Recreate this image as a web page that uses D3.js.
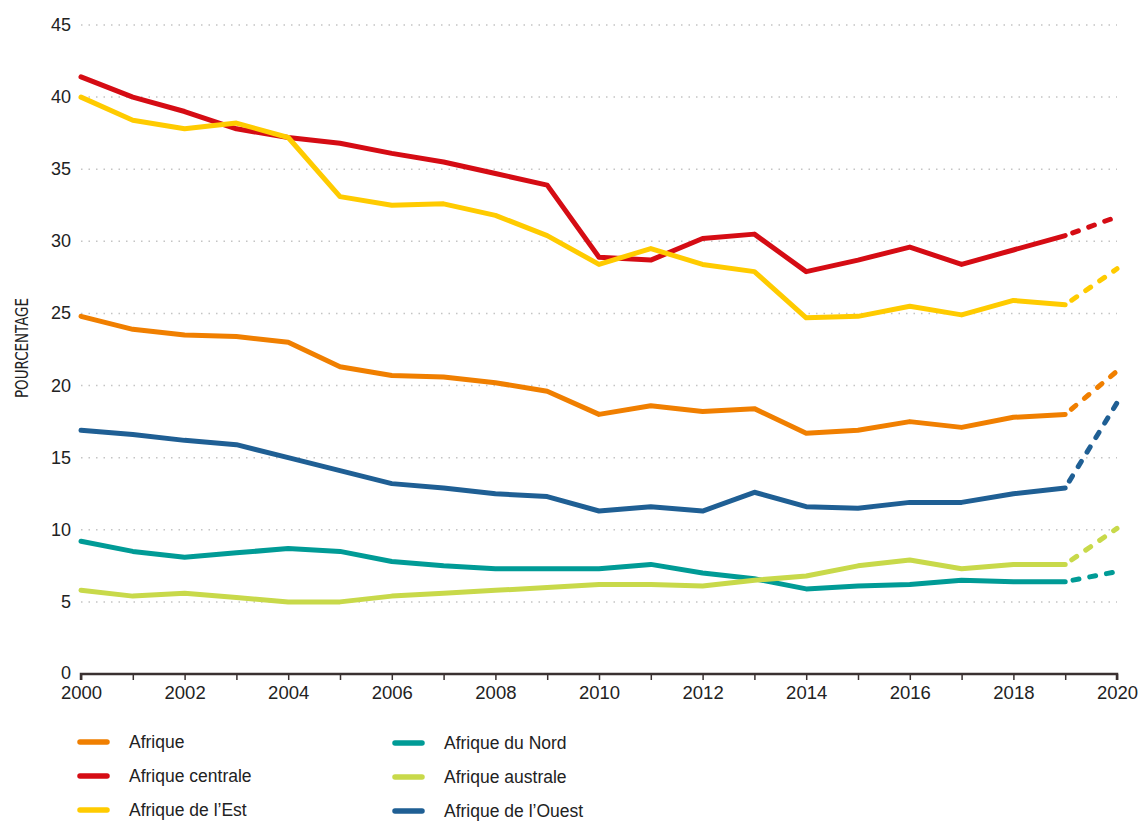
<!DOCTYPE html>
<html>
<head>
<meta charset="utf-8">
<script src="https://cdn.jsdelivr.net/npm/d3@7"></script>
<style>
  html, body { margin: 0; padding: 0; background: #fff; }
  svg { display: block; font-family: "Liberation Sans", Arial, sans-serif; }
</style>
</head>
<body>
<svg id="chart" width="1141" height="821"></svg>
<script>
const years = d3.range(2000, 2021);
const yTicks = [0, 5, 10, 15, 20, 25, 30, 35, 40, 45];
const xTicks = [2000, 2002, 2004, 2006, 2008, 2010, 2012, 2014, 2016, 2018, 2020];

const seriesNames = ["Afrique", "Afrique centrale", "Afrique de l\u2019Est", "Afrique du Nord", "Afrique australe", "Afrique de l\u2019Ouest"];
const seriesColors = ["#f07f00", "#d50c14", "#ffcb00", "#009b96", "#c8d94a", "#1f5f94"];

const afrique        = [24.8, 23.9, 23.5, 23.4, 23.0, 21.3, 20.7, 20.6, 20.2, 19.6, 18.0, 18.6, 18.2, 18.4, 16.7, 16.9, 17.5, 17.1, 17.8, 18.0, 21.0];
const afriqueCentrale= [41.4, 40.0, 39.0, 37.8, 37.2, 36.8, 36.1, 35.5, 34.7, 33.9, 28.9, 28.7, 30.2, 30.5, 27.9, 28.7, 29.6, 28.4, 29.4, 30.4, 31.7];
const afriqueEst     = [40.0, 38.4, 37.8, 38.2, 37.2, 33.1, 32.5, 32.6, 31.8, 30.4, 28.4, 29.5, 28.4, 27.9, 24.7, 24.8, 25.5, 24.9, 25.9, 25.6, 28.1];
const afriqueNord    = [9.2, 8.5, 8.1, 8.4, 8.7, 8.5, 7.8, 7.5, 7.3, 7.3, 7.3, 7.6, 7.0, 6.6, 5.9, 6.1, 6.2, 6.5, 6.4, 6.4, 7.1];
const afriqueAustrale= [5.8, 5.4, 5.6, 5.3, 5.0, 5.0, 5.4, 5.6, 5.8, 6.0, 6.2, 6.2, 6.1, 6.5, 6.8, 7.5, 7.9, 7.3, 7.6, 7.6, 10.1];
const afriqueOuest   = [16.9, 16.6, 16.2, 15.9, 15.0, 14.1, 13.2, 12.9, 12.5, 12.3, 11.3, 11.6, 11.3, 12.6, 11.6, 11.5, 11.9, 11.9, 12.5, 12.9, 18.8];

const seriesValues = [afrique, afriqueCentrale, afriqueEst, afriqueNord, afriqueAustrale, afriqueOuest];
const lastObserved = 2019;

const svg = d3.select("#chart");
const x = d3.scaleLinear().domain([2000, 2020]).range([81, 1117]);
const y = d3.scaleLinear().domain([0, 45]).range([674, 25]);

// gridlines
svg.append("g").selectAll("line")
  .data(yTicks.filter(d => d > 0))
  .join("line")
  .attr("x1", x(2000)).attr("x2", x(2020))
  .attr("y1", d => y(d)).attr("y2", d => y(d))
  .attr("stroke", "#c4c4c4").attr("stroke-width", 1.5)
  .attr("stroke-dasharray", "1.5,6");

// y tick labels
svg.append("g").selectAll("text")
  .data(yTicks)
  .join("text")
  .attr("x", 71).attr("y", d => y(d) + (d === 0 ? 5 : 6))
  .attr("text-anchor", "end")
  .attr("font-size", 18).attr("fill", "#222")
  .text(d => d);

// x axis
const xAxis = d3.axisBottom(x).tickValues(years).tickSize(6).tickFormat(d => xTicks.includes(d) ? d : "");
const gx = svg.append("g").attr("transform", `translate(0,${y(0)})`).call(xAxis);
gx.select(".domain").attr("stroke", "#3a3131").attr("stroke-width", 2.5).attr("d", `M${x(2000)},6V0H${x(2020)}V6`);
gx.selectAll(".tick line").attr("stroke", "#3a3131").attr("stroke-width", 1.5);
gx.selectAll(".tick text").attr("font-size", 18.5).attr("fill", "#222")
  .attr("y", 25).attr("dy", null)
  .attr("font-family", "Liberation Sans, Arial, sans-serif");

// y axis title
svg.append("text")
  .attr("transform", `translate(28,348) rotate(-90)`)
  .attr("text-anchor", "middle")
  .attr("font-size", 18).attr("fill", "#222")
  .attr("font-family", "'Liberation Sans Narrow', 'DejaVu Sans Condensed', sans-serif")
  .attr("textLength", 100).attr("lengthAdjust", "spacingAndGlyphs")
  .text("POURCENTAGE");

// lines
const line = d3.line().x(d => x(d.year)).y(d => y(d.value));
seriesValues.forEach((vals, i) => {
  const pts = vals.map((v, j) => ({ year: years[j], value: v }));
  const solid = pts.filter(p => p.year <= lastObserved);
  const dashed = pts.filter(p => p.year >= lastObserved);
  svg.append("path").datum(solid).attr("d", line)
    .attr("fill", "none").attr("stroke", seriesColors[i]).attr("stroke-width", 5)
    .attr("stroke-linejoin", "round").attr("stroke-linecap", "round");
  svg.append("path").datum(dashed).attr("d", line)
    .attr("fill", "none").attr("stroke", seriesColors[i]).attr("stroke-width", 5)
    .attr("stroke-linecap", "round").attr("stroke-dasharray", "6,11")
    .attr("stroke-dashoffset", -8);
});

// legend
const legendPos = [[0,0],[0,1],[0,2],[1,0],[1,1],[1,2]];
const lg = svg.append("g");
seriesNames.forEach((name, i) => {
  const [c, r] = legendPos[i];
  const lx = c === 0 ? 80 : 395;
  const ly = (c === 0 ? 742 : 743) + r * 34;
  lg.append("line").attr("x1", lx).attr("x2", lx + 27).attr("y1", ly).attr("y2", ly)
    .attr("stroke", seriesColors[i]).attr("stroke-width", 5.5).attr("stroke-linecap", "round");
  lg.append("text").attr("x", lx + 49).attr("y", ly + 6)
    .attr("font-size", 17.5).attr("fill", "#222").text(name);
});
</script>
</body>
</html>
